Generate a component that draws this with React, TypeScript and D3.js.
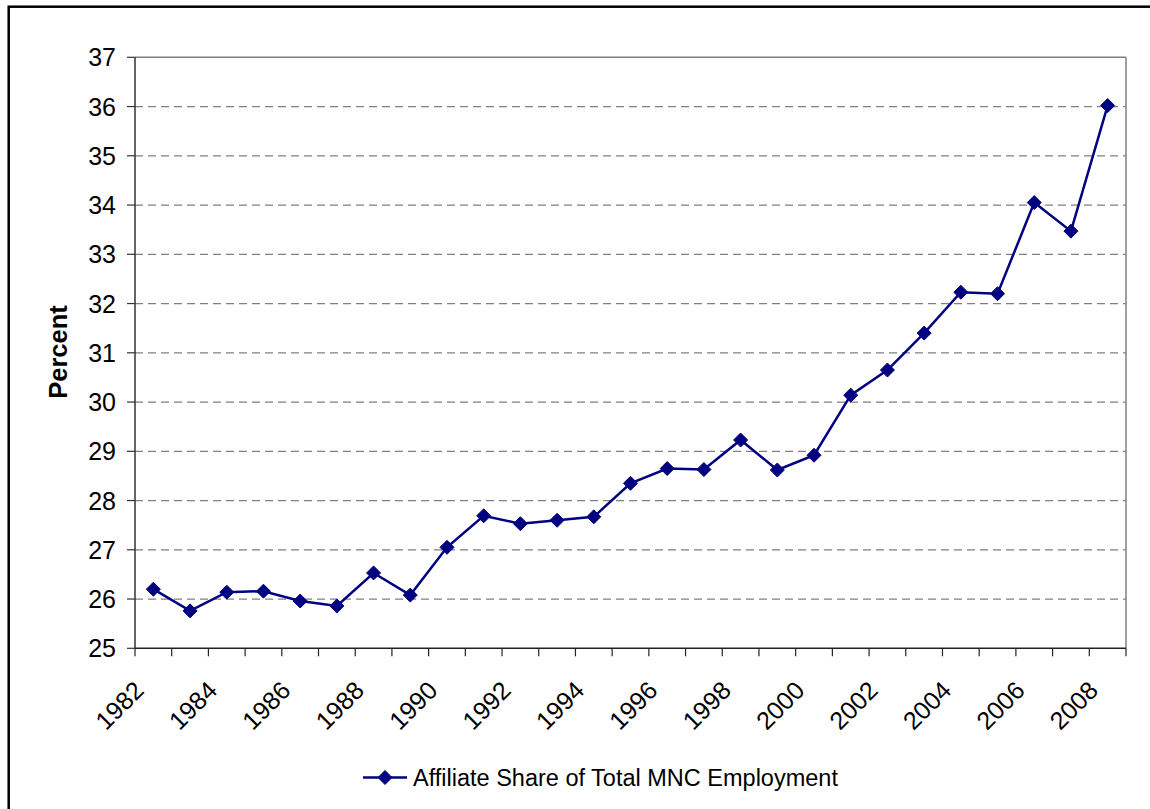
import React from "react";
import * as d3 from "d3";

const years: string[] = [
  "1982","1983","1984","1985","1986","1987","1988","1989","1990","1991","1992","1993","1994",
  "1995","1996","1997","1998","1999","2000","2001","2002","2003","2004","2005","2006","2007","2008",
];
const shares: number[] = [
  26.2, 25.76, 26.14, 26.16, 25.96, 25.86, 26.53, 26.08, 27.05, 27.69, 27.53, 27.6, 27.67,
  28.35, 28.65, 28.63, 29.23, 28.62, 28.92, 30.14, 30.65, 31.4, 32.23, 32.2, 34.05, 33.47, 36.02,
];
const yTicks: number[] = [25, 26, 27, 28, 29, 30, 31, 32, 33, 34, 35, 36, 37];
const seriesName = "Affiliate Share of Total MNC Employment";
const yLabel = "Percent";

const W = 1150;
const H = 809;
const left = 135;
const right = 1126;
const top = 57.3;
const bottom = 648.3;
const FONT = "'Liberation Sans', Arial, Helvetica, sans-serif";
const NAVY = "#000080";

function Diamond({ x, y, r }: { x: number; y: number; r: number }) {
  return (
    <path
      d={`M${x},${y - r}L${x + r},${y}L${x},${y + r}L${x - r},${y}Z`}
      fill={NAVY}
      stroke={NAVY}
      strokeWidth={1}
    />
  );
}

export default function App() {
  const x = d3.scaleBand<string>().domain(years).range([left, right]).padding(0);
  const y = d3.scaleLinear().domain([25, 37]).range([bottom, top]);
  const cx = (d: string) => (x(d) as number) + x.bandwidth() / 2;

  const line = d3
    .line<number>()
    .x((_, i) => cx(years[i]))
    .y((v) => y(v));

  const boundaries = d3.range(years.length + 1).map((i) => left + i * x.bandwidth());

  return (
    <svg
      width={W}
      height={H}
      style={{ position: "absolute", left: 0, top: 0, background: "#fff" }}
      fontFamily={FONT}
    >
      <rect x={0} y={0} width={W} height={H} fill="#fff" />
      <rect x={8.7} y={6.7} width={W + 20} height={H + 20} fill="none" stroke="#000" strokeWidth={2.5} />

      {/* gridlines */}
      {yTicks.filter((t) => t !== 25 && t !== 37).map((t) => (
        <line
          key={"g" + t}
          x1={left}
          x2={right}
          y1={y(t)}
          y2={y(t)}
          stroke="#808080"
          strokeWidth={1.2}
          strokeDasharray="8,5"
        />
      ))}

      {/* plot border top/right */}
      <line x1={left} x2={right} y1={top} y2={top} stroke="#808080" strokeWidth={1.5} />
      <line x1={right} x2={right} y1={top} y2={bottom} stroke="#808080" strokeWidth={1.5} />

      {/* y axis */}
      <line x1={left} x2={left} y1={top} y2={bottom} stroke="#333" strokeWidth={1.5} />
      {yTicks.map((t) => (
        <g key={"y" + t}>
          <line x1={left - 8} x2={left} y1={y(t)} y2={y(t)} stroke="#333" strokeWidth={1.2} />
          <text x={116} y={y(t)} dy="0.36em" textAnchor="end" fontSize={25} fill="#000">
            {t}
          </text>
        </g>
      ))}

      {/* x axis */}
      <line x1={left} x2={right} y1={bottom} y2={bottom} stroke="#222" strokeWidth={1.5} />
      {boundaries.map((b, i) => (
        <line key={"xt" + i} x1={b} x2={b} y1={bottom} y2={bottom + 8} stroke="#222" strokeWidth={1.2} />
      ))}
      {years.map((yr, i) =>
        i % 2 === 0 ? (
          <text
            key={"xl" + yr}
            transform={`translate(${cx(yr) - 8},${692}) rotate(-45)`}
            textAnchor="end"
            fontSize={25}
            fill="#000"
          >
            {yr}
          </text>
        ) : null
      )}

      {/* y label */}
      <text
        transform={`translate(${67},${352}) rotate(-90)`}
        textAnchor="middle"
        fontSize={25.5}
        fontWeight="bold"
        fill="#000"
      >
        {yLabel}
      </text>

      {/* series */}
      <path d={line(shares) || ""} fill="none" stroke={NAVY} strokeWidth={2.5} />
      {shares.map((v, i) => (
        <Diamond key={"m" + i} x={cx(years[i])} y={y(v)} r={7} />
      ))}

      {/* legend */}
      <line x1={363} x2={407} y1={777.5} y2={777.5} stroke={NAVY} strokeWidth={2.5} />
      <Diamond x={385} y={777.5} r={7} />
      <text x={413} y={786} fontSize={23.5} fill="#000">
        {seriesName}
      </text>
    </svg>
  );
}
